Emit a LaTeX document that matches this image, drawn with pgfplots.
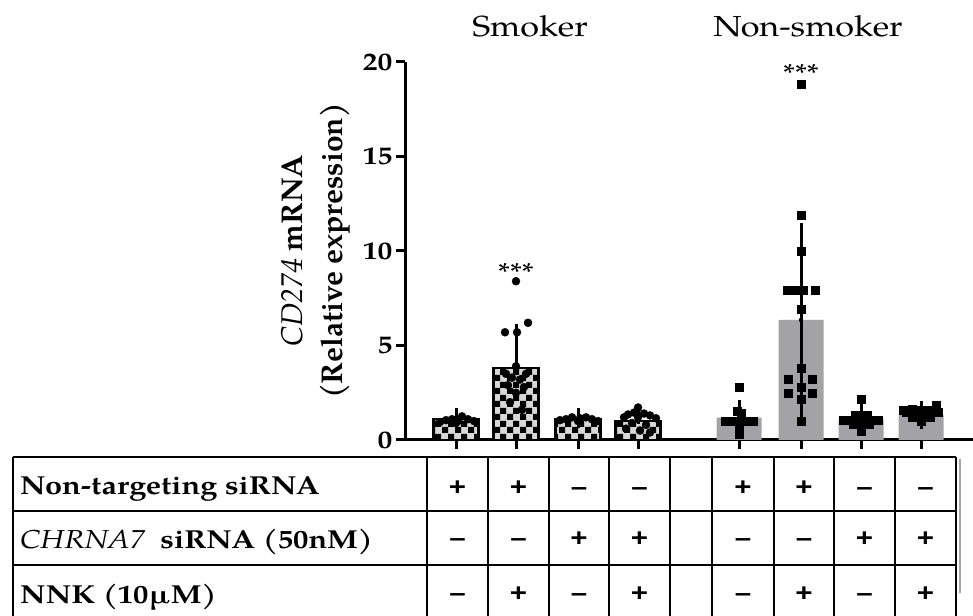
\documentclass[border=0pt]{standalone}
\usepackage{pgfplots}
\pgfplotsset{compat=1.18}
\usetikzlibrary{patterns}
\usepackage{fontspec}
\setmainfont{TeX Gyre Pagella}[FakeStretch=1.18]
\newfontfamily\rotfont{TeX Gyre Pagella}
\newfontfamily\pmfont{Liberation Sans}[FakeStretch=1.18]
\definecolor{barg}{RGB}{163,163,167}
\definecolor{chkg}{RGB}{215,215,215}
\pgfdeclarepatternformonly{checker6}{\pgfpointorigin}{\pgfqpoint{13pt}{13pt}}{\pgfqpoint{13pt}{13pt}}{%
 \pgfpathrectangle{\pgfpointorigin}{\pgfqpoint{6.5pt}{6.5pt}}%
 \pgfpathrectangle{\pgfqpoint{6.5pt}{6.5pt}}{\pgfqpoint{6.5pt}{6.5pt}}%
 \pgfusepath{fill}}
\begin{document}
\begin{tikzpicture}[x=1pt,y=1pt]
\useasboundingbox (0,0) rectangle (973,615);
\begin{axis}[
 at={(405pt,175pt)}, anchor=south west,
 scale only axis, width=568pt, height=378pt,
 xmin=405, xmax=973, ymin=0, ymax=20,
 axis lines=left, axis line style={-, line width=3pt},
 xtick={456,516,578,638,739,801,861,921}, xticklabels={},
 ytick={0,5,10,15,20},
 tick align=outside, major tick length=9pt,
 tick style={line width=3pt, black},
 yticklabel style={font=\bfseries\fontsize{25}{28}\selectfont},
 /pgf/number format/assume math mode=true,
 clip=false,
 ylabel={{\mdseries\itshape CD274} mRNA\\(Relative expression)},
 ylabel style={at={(axis description cs:-0.157,0.5)}, anchor=center, align=center, font=\rotfont\bfseries\fontsize{30}{40}\selectfont},
]
% smoker bars (checkered)
\addplot[ybar, bar width=45pt, draw=black, line width=2.5pt, preaction={fill=chkg}, pattern=checker6, pattern color=black]
 coordinates {(456,1.1) (516,3.8) (578,1.1) (638,1.0)};
% non-smoker bars (gray)
\addplot[ybar, bar width=45pt, draw=none, fill=barg]
 coordinates {(739,1.18) (801,6.35) (861,1.12) (921,1.32)};
% smoker points
\addplot[only marks, mark=*, mark size=4pt, black] coordinates {
 (446,1.05) (452,1.1) (458,1.0) (462,1.25) (468,1.1) (474,1.0) (440,0.95) (456,0.9)
 (516,8.4) (528,6.2) (505,5.7) (517,5.7) (516,3.9) (506,3.5) (526,3.5) (512,3.3) (520,3.2) (508,2.9) (524,2.8) (516,2.5) (510,2.0) (522,1.6)
 (560,1.05) (566,1.1) (572,1.2) (580,1.15) (586,1.2) (592,1.1) (598,1.0) (578,1.0)
 (638,1.72) (628,1.35) (634,1.45) (644,1.4) (650,1.3) (624,1.2) (656,1.15) (638,1.2) (632,0.9) (646,0.8) (626,0.6) (640,0.5) (650,0.4)
};
% non-smoker points
\addplot[only marks, mark=square*, mark size=4pt, black] coordinates {
 (739,2.8) (737,1.55) (741,1.4) (725,0.97) (732,0.97) (739,0.97) (746,0.97) (753,0.97) (739,0.6) (739,0.3)
 (801,18.8) (801,11.9) (801,10.0) (787,7.9) (795,7.9) (803,7.9) (815,7.9) (801,6.9) (801,3.8) (788,3.2) (812,3.2) (801,2.8) (788,2.5) (812,2.5) (801,2.15) (801,0.97)
 (861,2.17) (855,1.3) (867,1.3) (843,1.07) (850,1.07) (857,1.07) (864,1.07) (871,1.07) (878,1.07) (853,0.85) (869,0.85) (861,0.7) (861,0.45)
 (936,1.85) (903,1.6) (912,1.65) (921,1.6) (929,1.6) (906,1.45) (914,1.4) (922,1.35) (930,1.4) (938,1.45) (912,1.2) (921,1.1) (930,1.2) (921,1.0)
};
% error bars smoker (upper only)
\addplot[black, only marks, mark=none, error bars/.cd, y dir=plus, y explicit,
 error bar style={line width=3pt, black}, error mark options={line width=3pt, mark size=10pt, black}]
 coordinates {(456,1.1) +- (0,0.05) (516,3.8) +- (0,1.8) (578,1.1) +- (0,0.05) (638,1.0) +- (0,0.4)};
% error bars non-smoker
\addplot[black, only marks, mark=none, error bars/.cd, y dir=both, y explicit,
 error bar style={line width=3pt, black}, error mark options={line width=3pt, mark size=10pt, black}]
 coordinates {(739,1.18) +- (0,0.42) (801,6.35) +- (0,4.6) (861,1.12) +- (0,0.3) (921,1.32) +- (0,0.22)};
\node[anchor=base, font=\fontsize{26}{30}\selectfont] at (axis cs:516,8.37) {***};
\node[anchor=base, font=\fontsize{26}{30}\selectfont] at (axis cs:801,18.9) {***};
\end{axis}
% group titles
\node[anchor=base, font=\fontsize{29}{34}\selectfont] at (530,578) {Smoker};
\node[anchor=base, font=\fontsize{29}{34}\selectfont] at (808,578) {Non-smoker};
% table grid
\foreach \yy in {158,104,50} \draw[line width=2pt] (13,\yy) -- (956,\yy);
\foreach \xx in {13,427,488,549,609,670,712,774,834,895,956} \draw[line width=2pt] (\xx,158) -- (\xx,-6);
\draw[line width=1.5pt, gray!70] (960,156) -- (960,22);
% row labels
\node[anchor=base west, inner sep=0pt, font=\bfseries\fontsize{26}{30}\selectfont] at (20,120) {Non-targeting siRNA};
\node[anchor=base west, inner sep=0pt, font=\bfseries\fontsize{26}{30}\selectfont] at (20,66) {{\mdseries\itshape CHRNA7}\ \ siRNA (50nM)};
\node[anchor=base west, inner sep=0pt, font=\bfseries\fontsize{26}{30}\selectfont] at (20,12) {NNK (10µM)};
% plus / minus signs
\foreach \xx/\a/\b/\c in {457.5/+/–/–, 518.5/+/–/+, 579/–/+/–, 639.5/–/+/+, 743/+/–/–, 804/+/–/+, 864.5/–/+/–, 925.5/–/+/+} {
 \node[font=\pmfont\bfseries\fontsize{25}{28}\selectfont, inner sep=0pt] at (\xx,127) {\vphantom{+}\a};
 \node[font=\pmfont\bfseries\fontsize{25}{28}\selectfont, inner sep=0pt] at (\xx,76) {\vphantom{+}\b};
 \node[font=\pmfont\bfseries\fontsize{25}{28}\selectfont, inner sep=0pt] at (\xx,21) {\vphantom{+}\c};
}
\end{tikzpicture}
\end{document}
